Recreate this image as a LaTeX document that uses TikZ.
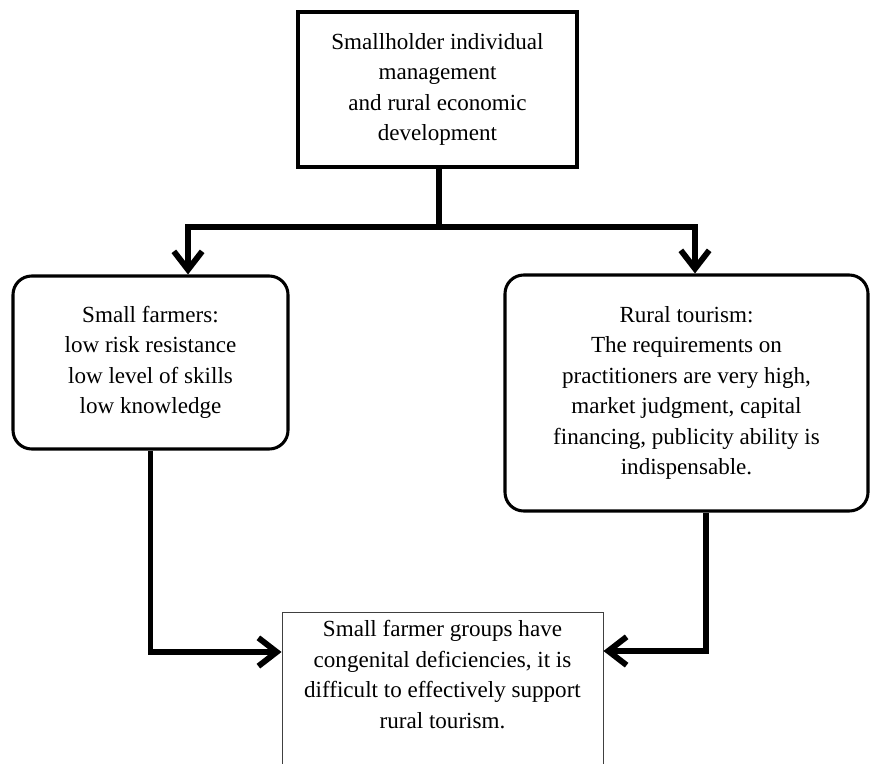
\documentclass[tikz,border=0pt]{standalone}
\usepackage{fontspec}
\setmainfont{Liberation Serif}
\usetikzlibrary{arrows.meta,calc}
\begin{document}
\begin{tikzpicture}[x=0.03cm,y=-0.03cm,
    every node/.style={font=\fontsize{19.7}{26}\selectfont,align=center},
    topbox/.style={draw,line width=3.4pt,minimum width=8.37cm,minimum height=4.65cm},
    roundbox/.style={draw,line width=2.6pt,rounded corners=16pt},
    endbox/.style={draw=black!75,line width=0.8pt,minimum width=9.63cm,inner ysep=7pt,text depth=130pt},
    feed/.style={line width=5pt},
    flow/.style={line width=5pt,-{Straight Barb[length=5.5mm,width=8.5mm]}}]
  \def\splitx{439}
  \def\splity{227}
  \useasboundingbox (0,0) rectangle (870,764);

  \node[topbox] (top) at (437.5,89.5) {Smallholder individual\\management\\and rural economic\\development};
  \node[roundbox,minimum width=8.25cm,minimum height=5.19cm] (small) at (150.5,362.5)
    {Small farmers:\\low risk resistance\\low level of skills\\low knowledge};
  \node[roundbox,minimum width=10.89cm,minimum height=7.08cm] (rural) at (686.5,393)
    {Rural tourism:\\The requirements on\\practitioners are very high,\\market judgment, capital\\financing, publicity ability is\\indispensable.};
  \node[endbox,anchor=north] (groups) at (442.5,612)
    {Small farmer groups have\\congenital deficiencies, it is\\difficult to effectively support\\rural tourism.};

  \coordinate (split) at (\splitx,\splity);
  \draw[feed] (top.south -| split) -- (split);
  \draw[flow] (split) -| ($(small.north)+(37.5,0)$);
  \draw[flow] (split) -| ($(rural.north)+(8.5,0)$);
  \draw[flow] (small.south) |- ($(groups.north west)+(0,40)$);
  \draw[flow] ($(rural.south)+(19.5,0)$) |- ($(groups.north east)+(0,39)$);
\end{tikzpicture}
\end{document}
